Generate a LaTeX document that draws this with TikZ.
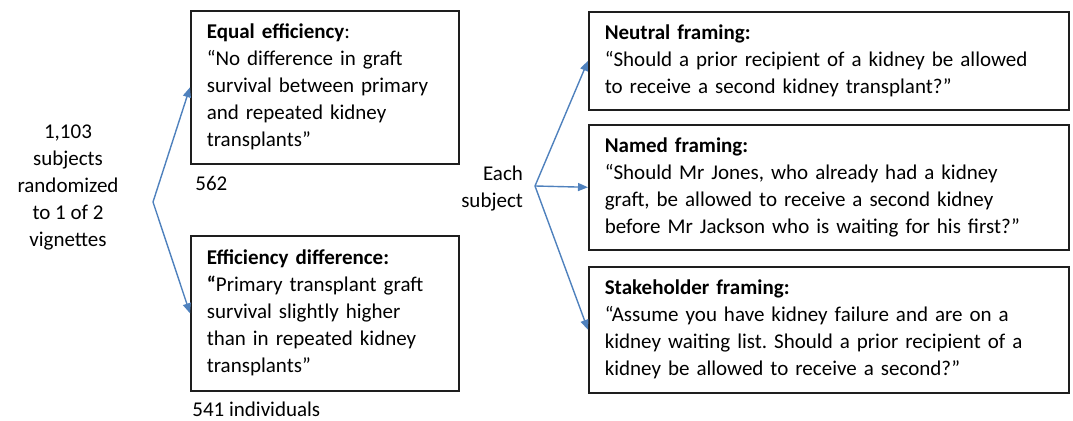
\documentclass[tikz,border=0pt]{standalone}
\usepackage{fontspec}
\setmainfont{Carlito}
\frenchspacing
\definecolor{arrowblue}{RGB}{79, 129, 189}
\definecolor{boxline}{RGB}{30, 30, 30}
\usetikzlibrary{arrows.meta, positioning, shadows}

\begin{document}
\begin{tikzpicture}[
  x=0.5pt, y=-0.5pt,
  every node/.style={font=\fontsize{10.5}{13.5}\selectfont},
  vignettebox/.style={draw=boxline, line width=0.8pt, fill=white, anchor=north west, text width=118pt, inner xsep=8pt, align=left, drop shadow={shadow xshift=0.8pt, shadow yshift=-0.8pt, fill=black!40}},
  framingbox/.style={vignettebox, text width=224pt},
  flowarrow/.style={draw=arrowblue, line width=0.7pt, -{Triangle[length=5pt, width=4pt]}}
]
  \useasboundingbox (0,0) rectangle (1073,421);

  % Randomisation to vignettes
  \node[align=center] (subjects) at (68,187) {1,103\\subjects\\randomized\\to 1 of 2\\vignettes};
  \node[vignettebox, minimum height=76.5pt] (equal) at (190,10) {\textbf{Equal efficiency}:\\“No difference in graft\\survival between primary\\and repeated kidney\\transplants”};
  \node[anchor=north west, inner sep=0pt] (n562) at (195,176) {562};
  \node[vignettebox, minimum height=77.5pt] (diff) at (190,235) {\textbf{Efficiency difference:}\\\textbf{“}Primary transplant graft\\survival slightly higher\\than in repeated kidney\\transplants”};
  \node[anchor=north west, inner sep=0pt] (n541) at (192,402) {541 individuals};

  \coordinate (split) at (153,202);
  \draw[flowarrow] (split) -- (equal.west);
  \draw[flowarrow] (split) -- (diff.west);

  % Framings seen by each subject
  \node[align=right, anchor=east] (each) at (530,189) {Each\\subject};
  \node[framingbox, minimum height=49pt] (neutral) at (588,11) {\textbf{Neutral framing:}\\“Should a prior recipient of a kidney be allowed\\to receive a second kidney transplant?”};
  \node[framingbox, minimum height=62.5pt] (named) at (588,124) {\textbf{Named framing:}\\“Should Mr Jones, who already had a kidney\\graft, be allowed to receive a second kidney\\before Mr Jackson who is waiting for his first?”};
  \node[framingbox, minimum height=63pt] (stake) at (588,266) {\textbf{Stakeholder framing:}\\“Assume you have kidney failure and are on a\\kidney waiting list. Should a prior recipient of a\\kidney be allowed to receive a second?”};

  \coordinate (fork) at (535,186);
  \draw[flowarrow] (fork) -- (neutral.west);
  \draw[flowarrow] (fork) -- (named.west);
  \draw[flowarrow] (fork) -- (stake.west);
\end{tikzpicture}
\end{document}
